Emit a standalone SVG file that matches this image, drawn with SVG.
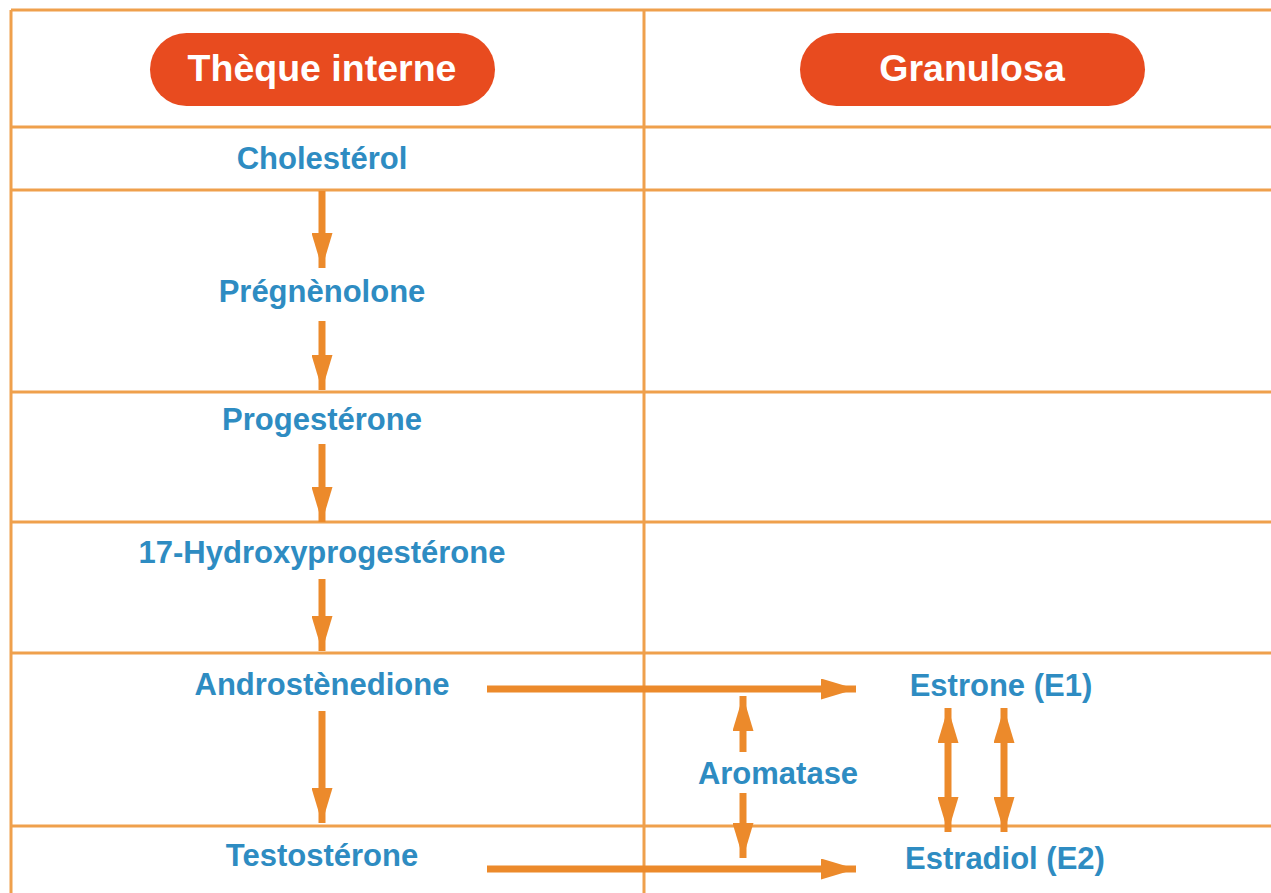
<svg xmlns="http://www.w3.org/2000/svg" width="1271" height="893" viewBox="0 0 1271 893">
<style>
.grid{stroke:#EFA04C;stroke-width:3;fill:none}
.pill{fill:#E84B1F}
.ht{font-family:"Liberation Sans",Arial,sans-serif;font-weight:bold;font-size:37.5px;fill:#FFFFFF;text-anchor:middle}
.t{font-family:"Liberation Sans",Arial,sans-serif;font-weight:bold;font-size:31px;fill:#2E8CC2;text-anchor:middle}
.arr{stroke:#EC8A2B;stroke-width:7;fill:none}
</style>
<defs>
<marker id="ah" viewBox="0 0 10 6" refX="10" refY="3" markerWidth="5" markerHeight="3" orient="auto-start-reverse" markerUnits="strokeWidth">
<path d="M0,0 L10,3 L0,6 z" fill="#EC8A2B"/>
</marker>
</defs>
<rect width="1271" height="893" fill="#FFFFFF"/>
<g id="grid">
<line class="grid" x1="11" y1="10" x2="1271" y2="10"/>
<line class="grid" x1="11" y1="10" x2="11" y2="893"/>
<line class="grid" x1="644" y1="10" x2="644" y2="893"/>
<line class="grid" x1="11" y1="127" x2="1271" y2="127"/>
<line class="grid" x1="11" y1="190" x2="1271" y2="190"/>
<line class="grid" x1="11" y1="392" x2="1271" y2="392"/>
<line class="grid" x1="11" y1="522" x2="1271" y2="522"/>
<line class="grid" x1="11" y1="653" x2="1271" y2="653"/>
<line class="grid" x1="11" y1="826" x2="1271" y2="826"/>
</g>
<g id="header-theque">
<rect class="pill" x="150" y="33" width="345" height="73" rx="36.5"/>
<text class="ht" x="322" y="81">Thèque interne</text>
</g>
<g id="header-granulosa">
<rect class="pill" x="800" y="33" width="345" height="73" rx="36.5"/>
<text class="ht" x="972" y="81">Granulosa</text>
</g>
<g id="cholesterol"><text class="t" x="322" y="169">Cholestérol</text></g>
<g id="pregnenolone"><text class="t" x="322" y="302">Prégnènolone</text></g>
<g id="progesterone"><text class="t" x="322" y="430">Progestérone</text></g>
<g id="hydroxyprogesterone"><text class="t" x="322" y="563">17-Hydroxyprogestérone</text></g>
<g id="androstenedione"><text class="t" x="322" y="695">Androstènedione</text></g>
<g id="testosterone"><text class="t" x="322" y="866">Testostérone</text></g>
<g id="estrone"><text class="t" x="1001" y="696">Estrone (E1)</text></g>
<g id="estradiol"><text class="t" x="1005" y="869">Estradiol (E2)</text></g>
<g id="aromatase"><text class="t" x="778" y="784">Aromatase</text></g>
<g id="connectors">
<line class="arr" x1="322" y1="191" x2="322" y2="268" marker-end="url(#ah)"/>
<line class="arr" x1="322" y1="321" x2="322" y2="390" marker-end="url(#ah)"/>
<line class="arr" x1="322" y1="444" x2="322" y2="522" marker-end="url(#ah)"/>
<line class="arr" x1="322" y1="579" x2="322" y2="651" marker-end="url(#ah)"/>
<line class="arr" x1="322" y1="711" x2="322" y2="823" marker-end="url(#ah)"/>
<line class="arr" x1="487" y1="689" x2="856" y2="689" marker-end="url(#ah)"/>
<line class="arr" x1="487" y1="869" x2="856" y2="869" marker-end="url(#ah)"/>
<line class="arr" x1="743" y1="752" x2="743" y2="696" marker-end="url(#ah)"/>
<line class="arr" x1="743" y1="793" x2="743" y2="858" marker-end="url(#ah)"/>
<line class="arr" x1="948" y1="708" x2="948" y2="832" marker-start="url(#ah)" marker-end="url(#ah)"/>
<line class="arr" x1="1004" y1="708" x2="1004" y2="832" marker-start="url(#ah)" marker-end="url(#ah)"/>
</g>
</svg>
